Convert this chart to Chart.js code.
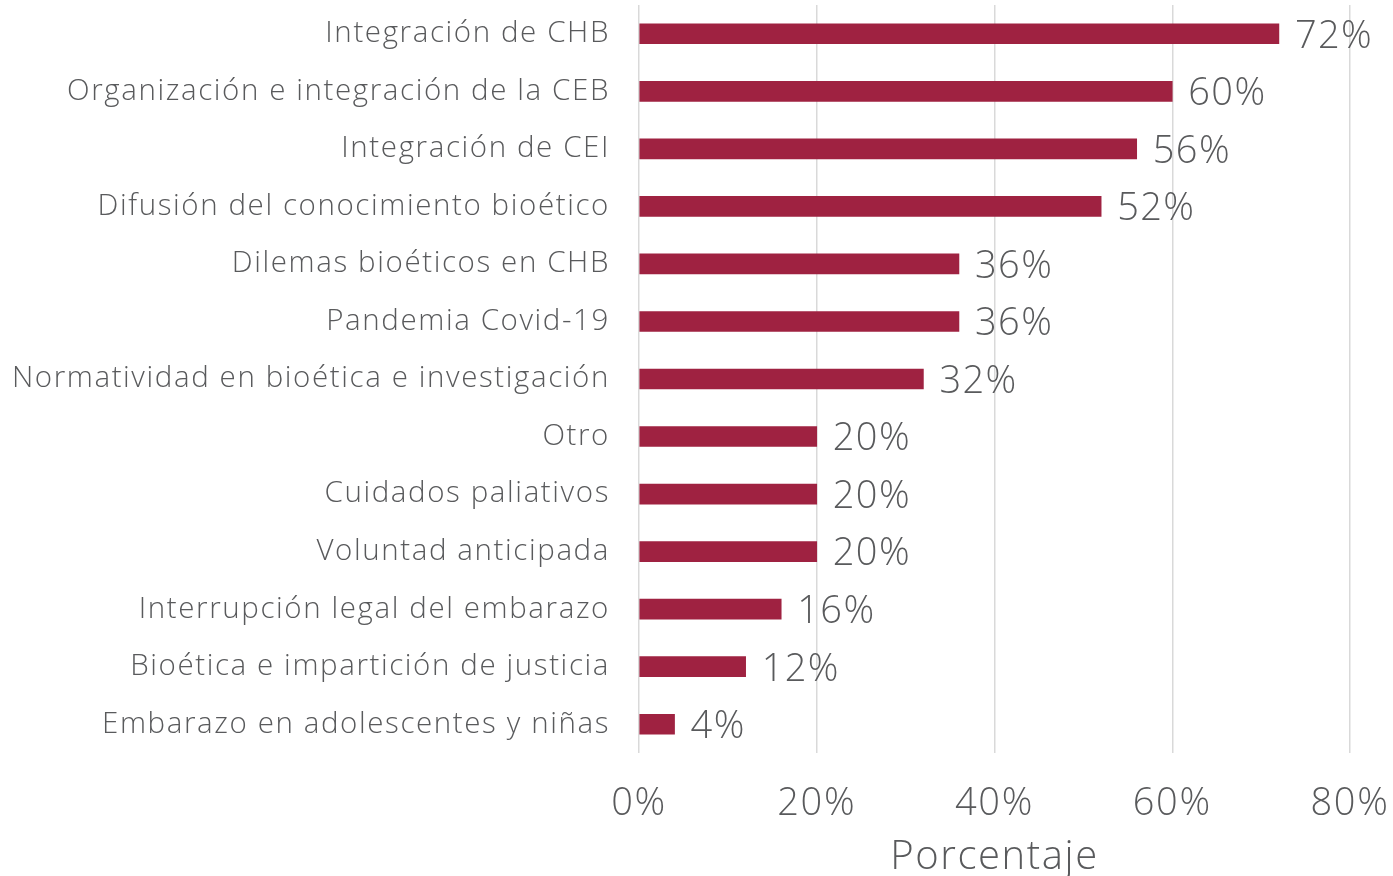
<!DOCTYPE html>
<html>
<head>
<meta charset="utf-8">
<script src="https://cdn.jsdelivr.net/npm/chart.js@4"></script>
<style>
    body { margin: 0; background: #ffffff; }
    #wrap { width: 1393px; height: 876px; }
</style>
</head>
<body>
<div id="wrap"><canvas id="chart" width="1393" height="876"></canvas></div>
<script>
// 항목 / 값
const temas = [
    'Integración de CHB',
    'Organización e integración de la CEB',
    'Integración de CEI',
    'Difusión del conocimiento bioético',
    'Dilemas bioéticos en CHB',
    'Pandemia Covid-19',
    'Normatividad en bioética e investigación',
    'Otro',
    'Cuidados paliativos',
    'Voluntad anticipada',
    'Interrupción legal del embarazo',
    'Bioética e impartición de justicia',
    'Embarazo en adolescentes y niñas'
];
const porcentajes = [72, 60, 56, 52, 36, 36, 32, 20, 20, 20, 16, 12, 4];
const ticksX = [0, 20, 40, 60, 80];

const FONT = "'Open Sans', sans-serif";
const GRIS = '#595a5c';

// 글자 간격 (원본 글꼴이 더 넓음)
const espaciado = {
    id: 'espaciado',
    beforeUpdate(chart) { chart.ctx.letterSpacing = '1.6px'; },
    beforeDraw(chart) { chart.ctx.letterSpacing = '1.6px'; }
};

// 막대 끝 라벨
const etiquetas = {
    id: 'etiquetas',
    afterDatasetsDraw(chart) {
        const ctx = chart.ctx;
        const meta = chart.getDatasetMeta(0);
        ctx.save();
        ctx.letterSpacing = '1.4px';
        ctx.font = '300 38px ' + FONT;
        ctx.fillStyle = GRIS;
        ctx.textBaseline = 'middle';
        meta.data.forEach((bar, i) => {
            ctx.fillText(porcentajes[i] + '%', bar.x + 16, bar.y + 3);
        });
        ctx.restore();
    }
};

new Chart(document.getElementById('chart'), {
    type: 'bar',
    data: {
        labels: temas,
        datasets: [{
            data: porcentajes,
            backgroundColor: '#9f2241',
            barThickness: 20
        }]
    },
    options: {
        indexAxis: 'y',
        responsive: false,
        animation: false,
        layout: { padding: { top: 5, right: 43, left: 0, bottom: 0 } },
        plugins: {
            legend: { display: false },
            tooltip: { enabled: false }
        },
        scales: {
            x: {
                min: 0,
                max: 80,
                afterBuildTicks(axis) {
                    axis.ticks = ticksX.map(v => ({ value: v }));
                },
                afterFit(axis) {
                    axis.height = 123;
                    axis.paddingLeft = 0;
                    axis.paddingRight = 0;
                },
                grid: { color: '#d9d9d9', lineWidth: 1.5, drawTicks: false },
                border: { display: false },
                ticks: {
                    padding: 28,
                    color: GRIS,
                    font: { family: FONT, size: 38, weight: 300 },
                    callback: v => v + '%'
                },
                title: {
                    display: true,
                    text: 'Porcentaje',
                    color: GRIS,
                    font: { family: FONT, size: 40, weight: 300 },
                    padding: { top: 0, bottom: -6 }
                }
            },
            y: {
                afterFit(axis) {
                    axis.width = 639;
                    axis.paddingTop = 0;
                    axis.paddingBottom = 0;
                },
                grid: { display: false },
                border: { display: false },
                ticks: {
                    padding: 21,
                    color: GRIS,
                    font: { family: FONT, size: 29.5, weight: 300 }
                }
            }
        }
    },
    plugins: [espaciado, etiquetas]
});
</script>
</body>
</html>
